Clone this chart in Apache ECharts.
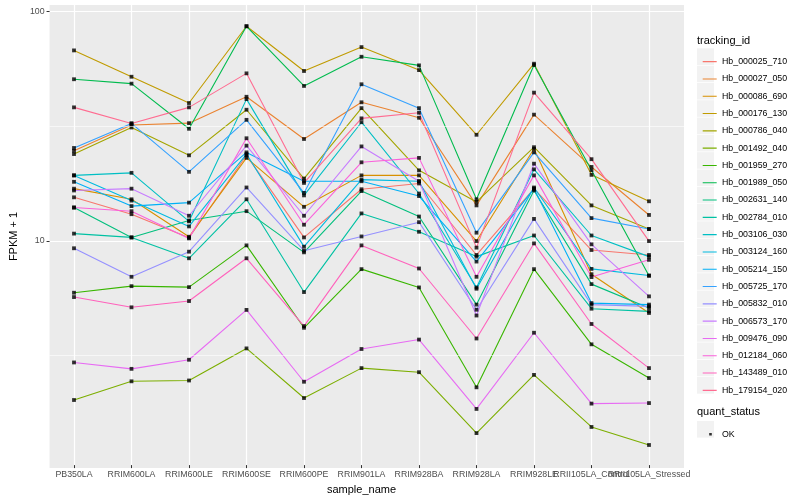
<!DOCTYPE html>
<html><head><meta charset="utf-8">
<script src="https://cdn.jsdelivr.net/npm/echarts@6/dist/echarts.min.js"></script>
<style>html,body{margin:0;padding:0;background:#fff}#c{width:800px;height:500px}</style>
</head><body><div id="c"></div>
<script>
const categories = ['PB350LA','RRIM600LA','RRIM600LE','RRIM600SE','RRIM600PE','RRIM901LA','RRIM928BA','RRIM928LA','RRIM928LE','RRII105LA_Control','RRII105LA_Stressed'];
const yTicks = [10, 100];
const yMinorBreaks = [3.1623, 31.623];
const trackingIds = ['Hb_000025_710','Hb_000027_050','Hb_000086_690','Hb_000176_130','Hb_000786_040','Hb_001492_040','Hb_001959_270','Hb_001989_050','Hb_002631_140','Hb_002784_010','Hb_003106_030','Hb_003124_160','Hb_005214_150','Hb_005725_170','Hb_005832_010','Hb_006573_170','Hb_009476_090','Hb_012184_060','Hb_143489_010','Hb_179154_020'];
const colors = ['#F8766D','#EA8331','#D89000','#C09B00','#A3A500','#7CAE00','#39B600','#00BB4E','#00BF7D','#00C1A3','#00BFC4','#00BAE0','#00B0F6','#35A2FF','#9590FF','#C77CFF','#E76BF3','#FA62DB','#FF62BC','#FF6C91'];

const hb_000025_710 = [15.3, 12.9, 10.17, 23.4, 10.2, 16.6, 17.6, 8.54, 16.7, 8.98, 8.54];
const hb_000027_050 = [24.5, 31.8, 32.4, 42.3, 27.6, 40.0, 34.2, 14.1, 35.3, 20.8, 12.8];
const hb_000086_690 = [16.7, 15.0, 10.27, 22.8, 13.9, 19.1, 19.1, 9.83, 25.0, 7.03, 4.75];
const hb_000176_130 = [67.6, 51.8, 39.7, 86.3, 54.9, 69.9, 55.4, 28.8, 59.1, 19.2, 14.7];
const hb_000786_040 = [23.7, 31.0, 23.4, 37.1, 18.5, 37.7, 20.1, 14.6, 25.4, 14.1, 11.1];
const hb_001492_040 = [1.97, 2.38, 2.40, 3.32, 2.01, 2.72, 2.61, 1.41, 2.54, 1.50, 1.25];
const hb_001959_270 = [5.83, 6.23, 6.17, 9.41, 4.09, 7.40, 6.15, 2.24, 7.40, 3.46, 2.46];
const hb_001989_050 = [50.5, 48.3, 30.6, 86.3, 47.2, 63.4, 58.1, 15.0, 58.3, 20.1, 6.92];
const hb_002631_140 = [13.8, 10.2, 12.1, 13.3, 8.77, 16.3, 12.6, 5.17, 16.4, 6.36, 5.00];
const hb_002784_010 = [10.6, 10.2, 8.26, 15.0, 5.87, 13.0, 10.8, 8.40, 10.4, 4.96, 4.83];
const hb_003106_030 = [19.1, 19.6, 12.0, 41.3, 15.6, 32.7, 15.9, 6.15, 20.3, 10.4, 8.40];
const hb_003124_160 = [19.1, 14.8, 11.4, 23.7, 9.29, 18.3, 18.0, 6.07, 16.9, 7.42, 6.94];
const hb_005214_150 = [17.9, 14.0, 14.5, 24.1, 18.0, 18.0, 15.5, 7.99, 16.7, 5.25, 5.17];
const hb_005725_170 = [25.2, 32.3, 19.8, 33.5, 16.0, 48.0, 37.7, 10.7, 24.1, 12.4, 11.1];
const hb_005832_010 = [9.14, 6.85, 8.83, 16.9, 8.92, 10.3, 11.9, 4.91, 12.3, 5.17, 5.08];
const hb_006573_170 = [16.4, 16.7, 12.7, 25.8, 12.7, 25.6, 18.0, 4.63, 21.5, 9.51, 5.62];
const hb_009476_090 = [2.88, 2.70, 2.96, 4.90, 2.37, 3.30, 3.63, 1.80, 3.89, 1.90, 1.91];
const hb_012184_060 = [13.8, 13.3, 10.1, 27.8, 11.6, 21.8, 22.8, 6.85, 19.1, 6.83, 8.13];
const hb_143489_010 = [5.58, 5.03, 5.36, 8.26, 4.16, 9.41, 7.45, 3.67, 9.60, 4.25, 2.72];
const hb_179154_020 = [38.0, 32.3, 38.0, 53.6, 17.7, 34.0, 36.0, 9.20, 44.1, 22.5, 9.83];

const seriesValues = [hb_000025_710, hb_000027_050, hb_000086_690, hb_000176_130, hb_000786_040, hb_001492_040, hb_001959_270, hb_001989_050, hb_002631_140, hb_002784_010, hb_003106_030, hb_003124_160, hb_005214_150, hb_005725_170, hb_005832_010, hb_006573_170, hb_009476_090, hb_012184_060, hb_143489_010, hb_179154_020];
const quantStatus = ['OK'];

const FONT = '"Liberation Sans", Arial, Helvetica, sans-serif';
const yMin = 1.02, yMax = 107;
const legTop = 48.0, keyH = 17.3;
const chart = echarts.init(document.getElementById('c'), null, {renderer: 'canvas'});

const graphics = [];
trackingIds.forEach((_, i) => graphics.push({
  type: 'rect', silent: true, z: 0,
  shape: {x: 697, y: legTop + i * keyH + 0.35, width: 17, height: keyH - 0.7},
  style: {fill: '#F2F2F2'}
}));
graphics.push({type: 'rect', silent: true, z: 0, shape: {x: 697, y: 421.0, width: 17, height: keyH - 0.7}, style: {fill: '#F2F2F2'}});
graphics.push({type: 'text', silent: true, x: 697, y: 40.5, style: {text: 'tracking_id', fontSize: 11, fontFamily: FONT, fill: '#000', verticalAlign: 'middle'}});
graphics.push({type: 'text', silent: true, x: 697, y: 411.7, style: {text: 'quant_status', fontSize: 11, fontFamily: FONT, fill: '#000', verticalAlign: 'middle'}});

// minor grid lines of the full panel (log-midpoints), drawn via a carrier series in the background grid
const minorGridSeries = {
  name: '_minor', type: 'line', xAxisIndex: 0, yAxisIndex: 0, data: [],
  symbol: 'none', silent: true, z: 1,
  markLine: {
    silent: true, symbol: ['none', 'none'], label: {show: false}, animation: false,
    lineStyle: {color: '#fff', width: 0.6, type: 'solid'},
    emphasis: {disabled: true},
    data: yMinorBreaks.map(v => ({yAxis: v}))
  }
};

const lineSeries = trackingIds.map((name, i) => ({
  name, type: 'line', xAxisIndex: 1, yAxisIndex: 1, data: seriesValues[i],
  symbol: 'none', silent: true, z: 2,
  lineStyle: {color: colors[i], width: 1.1},
  itemStyle: {color: colors[i]}
}));
const pointSeries = seriesValues.map(v => ({
  name: quantStatus[0], type: 'scatter', xAxisIndex: 1, yAxisIndex: 1, data: v,
  symbol: 'rect', symbolSize: 3.8, silent: true, z: 3,
  itemStyle: {color: '#000'}
}));

chart.setOption({
  animation: false,
  textStyle: {fontFamily: FONT},
  grid: [
    {left: 40, right: 116, top: 5, bottom: 32, show: true, backgroundColor: '#EBEBEB', borderWidth: 0},
    {left: 74, right: 151, top: 5, bottom: 32, show: false}
  ],
  xAxis: [
    {gridIndex: 0, type: 'value', min: 0, max: 1, show: false},
    {gridIndex: 1, type: 'category', data: categories, boundaryGap: false,
     axisLine: {show: false},
     axisTick: {show: true, length: 3, lineStyle: {color: '#333'}},
     axisLabel: {interval: 0, hideOverlap: false, fontSize: 8.8, color: '#4D4D4D', margin: 5, fontFamily: FONT},
     splitLine: {show: true, lineStyle: {color: '#fff', width: 1.2}},
     name: 'sample_name', nameLocation: 'middle', nameGap: 15,
     nameTextStyle: {fontSize: 11, color: '#000', fontFamily: FONT}}
  ],
  yAxis: [
    {gridIndex: 0, type: 'log', logBase: 10, min: yMin, max: yMax,
     axisLine: {show: false},
     axisTick: {show: true, length: 3, lineStyle: {color: '#333'}, customValues: yTicks},
     axisLabel: {customValues: yTicks, fontSize: 8.8, color: '#4D4D4D', margin: 5, fontFamily: FONT},
     splitLine: {show: true, lineStyle: {color: '#fff', width: 1.2}},
     name: 'FPKM + 1', nameLocation: 'middle', nameGap: 23,
     nameTextStyle: {fontSize: 11, color: '#000', fontFamily: FONT}},
    {gridIndex: 1, type: 'log', logBase: 10, min: yMin, max: yMax, show: false,
     splitLine: {show: false}}
  ],
  legend: [
    {data: trackingIds, orient: 'vertical', left: 693, top: legTop, itemGap: 0,
     itemWidth: 19, itemHeight: keyH, selectedMode: false,
     icon: 'path://M0,0h0.01v0.01h-0.01z M19,17.3h0.01v0.01h-0.01z M4.7,8.1h14v1.1h-14z',
     textStyle: {fontSize: 8.8, color: '#000', fontFamily: FONT}},
    {data: quantStatus, orient: 'vertical', left: 693, top: 420.65, itemGap: 0,
     itemWidth: 19, itemHeight: keyH, selectedMode: false,
     icon: 'path://M0,0h0.01v0.01h-0.01z M19,17.3h0.01v0.01h-0.01z M11.2,7.35h2.6v2.6h-2.6z',
     textStyle: {fontSize: 8.8, color: '#000', fontFamily: FONT}}
  ],
  graphic: graphics,
  series: [minorGridSeries].concat(lineSeries, pointSeries)
});
</script></body></html>
